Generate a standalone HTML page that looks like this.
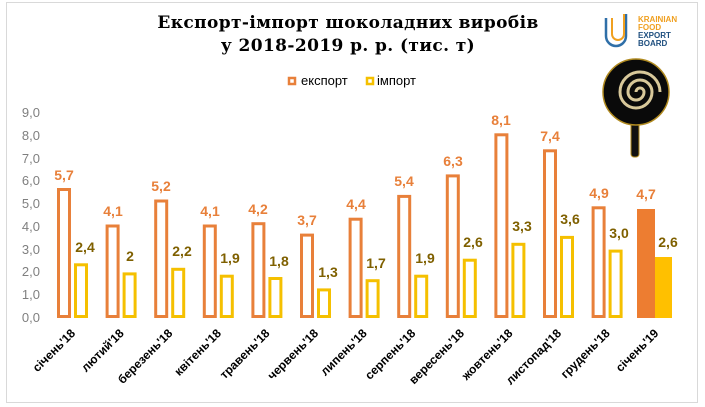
<!DOCTYPE html>
<html><head><meta charset="utf-8"><style>
body{margin:0;background:#fff}
svg{display:block}
.t{font-family:"DejaVu Serif","Liberation Serif",serif;font-weight:bold;font-size:17px;letter-spacing:0.4px}
.y{font-family:"Liberation Sans",sans-serif;font-size:13px;fill:#7f7f7f}
.e{font-family:"Liberation Sans",sans-serif;font-weight:bold;font-size:14px;fill:#e8803a}
.i{font-family:"Liberation Sans",sans-serif;font-weight:bold;font-size:14px;fill:#7f6000}
.x{font-family:"Liberation Sans",sans-serif;font-weight:bold;font-size:12px;fill:#000}
.l{font-family:"Liberation Sans",sans-serif;font-size:13px;fill:#000}
</style></head><body>
<svg width="705" height="407" xmlns="http://www.w3.org/2000/svg">
<rect x="6.5" y="2.5" width="691" height="400" fill="#fff" stroke="#d9d9d9"/>
<text class="t" x="348" y="28" text-anchor="middle">Експорт-імпорт шоколадних виробів</text>
<text class="t" x="348" y="51" text-anchor="middle">у 2018-2019 р. р. (тис. т)</text>
<rect x="289" y="78" width="6" height="6" fill="none" stroke="#e8803a" stroke-width="2.5"/>
<text class="l" x="301" y="85">експорт</text>
<rect x="367" y="78" width="6" height="6" fill="none" stroke="#f5c000" stroke-width="2.5"/>
<text class="l" x="377" y="85">імпорт</text>
<!-- logo -->
<g>
<path d="M606 18 v18 a10 10 0 0 0 20 0 v-22" fill="none" stroke="#2f6fa8" stroke-width="2.5"/>
<path d="M612 18 v16 a6 6 0 0 0 12 0 v-20" fill="none" stroke="#f0a020" stroke-width="2"/>
<text x="638" y="22" font-family="Liberation Sans" font-weight="bold" font-size="8" fill="#f0a020">KRAINIAN</text>
<text x="638" y="30" font-family="Liberation Sans" font-weight="bold" font-size="8" fill="#f0a020">FOOD</text>
<text x="638" y="38" font-family="Liberation Sans" font-weight="bold" font-size="8" fill="#1f4f7f">EXPORT</text>
<text x="638" y="46" font-family="Liberation Sans" font-weight="bold" font-size="8" fill="#1f4f7f">BOARD</text>
<rect x="631" y="122" width="8" height="35" rx="3" fill="#111" stroke="#b08a20"/>
<circle cx="636" cy="92" r="33" fill="#0a0a0a" stroke="#b08a20" stroke-width="1.5"/>
<path d="M636 92 a4 4 0 0 1 8 0 a8 8 0 0 1 -16 0 a12 12 0 0 1 24 0 a16 16 0 0 1 -32 0 a20 20 0 0 1 40 0" fill="none" stroke="#d8c89a" stroke-width="3"/>
</g>
<g class="y" text-anchor="end">
<text x="40" y="322">0,0</text><text x="40" y="299">1,0</text><text x="40" y="276">2,0</text>
<text x="40" y="254">3,0</text><text x="40" y="231">4,0</text><text x="40" y="208">5,0</text>
<text x="40" y="185">6,0</text><text x="40" y="163">7,0</text><text x="40" y="140">8,0</text>
<text x="40" y="117">9,0</text>
</g>
<g fill="none" stroke="#e8803a" stroke-width="3">
<rect x="58.5" y="189.5" width="11" height="127"/>
<rect x="107.1" y="226" width="11" height="90.5"/>
<rect x="155.7" y="201" width="11" height="115.5"/>
<rect x="204.3" y="226" width="11" height="90.5"/>
<rect x="252.9" y="223.7" width="11" height="92.8"/>
<rect x="301.5" y="235.1" width="11" height="81.4"/>
<rect x="350.1" y="219.2" width="11" height="97.3"/>
<rect x="398.7" y="196.4" width="11" height="120.1"/>
<rect x="447.3" y="175.9" width="11" height="140.6"/>
<rect x="495.9" y="134.8" width="11" height="181.7"/>
<rect x="544.5" y="150.8" width="11" height="165.7"/>
<rect x="593.1" y="207.8" width="11" height="108.7"/>
</g>
<g fill="none" stroke="#f5c000" stroke-width="3">
<rect x="75.5" y="264.8" width="11" height="51.7"/>
<rect x="124.1" y="273.9" width="11" height="42.6"/>
<rect x="172.7" y="269.3" width="11" height="47.2"/>
<rect x="221.3" y="276.2" width="11" height="40.3"/>
<rect x="269.9" y="278.5" width="11" height="38"/>
<rect x="318.5" y="289.9" width="11" height="26.6"/>
<rect x="367.1" y="280.7" width="11" height="35.8"/>
<rect x="415.7" y="276.2" width="11" height="40.3"/>
<rect x="464.3" y="260.2" width="11" height="56.3"/>
<rect x="512.9" y="244.3" width="11" height="72.2"/>
<rect x="561.5" y="237.4" width="11" height="79.1"/>
<rect x="610.1" y="251.1" width="11" height="65.4"/>
</g>
<rect x="637" y="209" width="18" height="109" fill="#ed7d31"/>
<rect x="655" y="257" width="17" height="61" fill="#ffc000"/>
<g class="e" text-anchor="middle">
<text x="64" y="180">5,7</text><text x="113" y="216">4,1</text><text x="161" y="191">5,2</text>
<text x="210" y="216">4,1</text><text x="258" y="214">4,2</text><text x="307" y="225">3,7</text>
<text x="356" y="209">4,4</text><text x="404" y="186">5,4</text><text x="453" y="166">6,3</text>
<text x="501" y="125">8,1</text><text x="550" y="141">7,4</text><text x="599" y="198">4,9</text>
<text x="646" y="199">4,7</text>
</g>
<g class="i" text-anchor="middle">
<text x="85" y="252">2,4</text><text x="130" y="261">2</text><text x="182" y="256">2,2</text>
<text x="230" y="263">1,9</text><text x="279" y="266">1,8</text><text x="328" y="277">1,3</text>
<text x="376" y="268">1,7</text><text x="425" y="263">1,9</text><text x="473" y="247">2,6</text>
<text x="522" y="231">3,3</text><text x="570" y="224">3,6</text><text x="619" y="238">3,0</text>
<text x="668" y="247">2,6</text>
</g>
<g class="x" text-anchor="end">
<text transform="translate(76,334) rotate(-45)">січень'18</text>
<text transform="translate(124.6,334) rotate(-45)">лютий'18</text>
<text transform="translate(173.2,334) rotate(-45)">березень'18</text>
<text transform="translate(221.8,334) rotate(-45)">квітень'18</text>
<text transform="translate(270.4,334) rotate(-45)">травень'18</text>
<text transform="translate(319,334) rotate(-45)">червень'18</text>
<text transform="translate(367.6,334) rotate(-45)">липень'18</text>
<text transform="translate(416.2,334) rotate(-45)">серпень'18</text>
<text transform="translate(464.8,334) rotate(-45)">вересень'18</text>
<text transform="translate(513.4,334) rotate(-45)">жовтень'18</text>
<text transform="translate(562,334) rotate(-45)">листопад'18</text>
<text transform="translate(610.6,334) rotate(-45)">грудень'18</text>
<text transform="translate(659.2,334) rotate(-45)">січень'19</text>
</g>
</svg>
</body></html>
